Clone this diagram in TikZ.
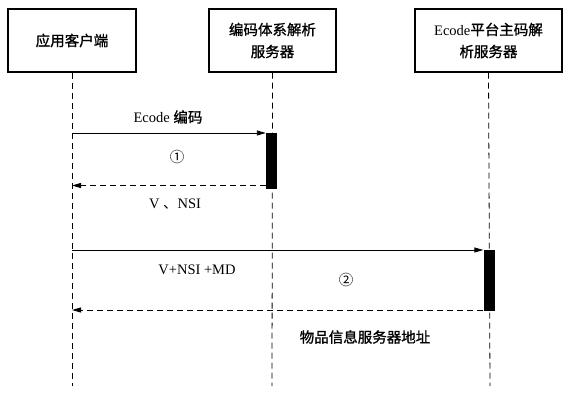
\documentclass[tikz,border=0pt]{standalone}
\usepackage{fontspec}
\setmainfont{Liberation Serif}
\newfontfamily\cjk[FakeBold=1.2]{Noto Sans CJK SC}
\newfontfamily\cjklight{Noto Sans CJK SC}
\usetikzlibrary{arrows.meta}
\begin{document}
\begin{tikzpicture}[x=1pt,y=-1pt,
  lbox/.style={draw,line width=1.4pt,minimum width=128pt,minimum height=63pt,inner sep=0pt,align=center,font=\fontsize{14.5}{22}\selectfont},
  life/.style={dash pattern=on 6pt off 4pt,line width=0.8pt},
  act/.style={fill=black,draw=none,inner sep=0pt},
  msg/.style={line width=0.9pt,-{Triangle[length=9pt,width=5pt]}},
  ret/.style={line width=0.9pt,dash pattern=on 6pt off 4pt,-{Triangle[length=9pt,width=5pt]}},
  lbl/.style={font=\fontsize{14.5}{17}\selectfont,inner sep=0pt}]
\useasboundingbox (0,0) rectangle (578,403);
\node[lbox] (c) at (72,40.5) {\cjk 应用客户端};
\node[lbox,minimum width=127pt] (s1) at (272.5,40.5) {\cjk 编码体系解析\\\cjk 服务器};
\node[lbox,minimum width=147pt] (s2) at (488.5,40.5) {Ecode\cjk 平台主码解\\\cjk 析服务器};
\coordinate (ce) at (72,386);
\coordinate (s1e) at (272,386);
\coordinate (s2e) at (490,386);
\draw[life] (c.south) -- (ce);
\draw[life] (s1.south) -- (s1e);
\draw[life] (s2.south) -- (s2e);
% activation boxes
\node[act,minimum width=11pt,minimum height=56pt] (a1) at (271.5,161) {};
\node[act,minimum width=11pt,minimum height=61pt] (a2) at (489,280.5) {};
\coordinate (m1s) at (72,133);
\coordinate (r1e) at (72,185.5);
\coordinate (m2s) at (72,250);
\coordinate (r2e) at (72,310);
\draw[msg] (m1s) -- (m1s -| a1.west);
\draw[ret] (r1e -| a1.west) -- (r1e);
\draw[msg] (m2s) -- (m2s -| a2.west);
\draw[ret] (r2e -| a2.west) -- (r2e);
\node[lbl] (t1) at (168,117) {Ecode {\cjk 编码}};
\node[lbl] (n1) at (177,157) {\cjklight ①};
\node[lbl] (t2) at (175,204) {V {\cjklight 、}NSI};
\node[lbl] (t3) at (197,270) {V+NSI +MD};
\node[lbl] (n2) at (346,280) {\cjklight ②};
\node[lbl] (t4) at (365,337) {\cjk 物品信息服务器地址};
\end{tikzpicture}
\end{document}
